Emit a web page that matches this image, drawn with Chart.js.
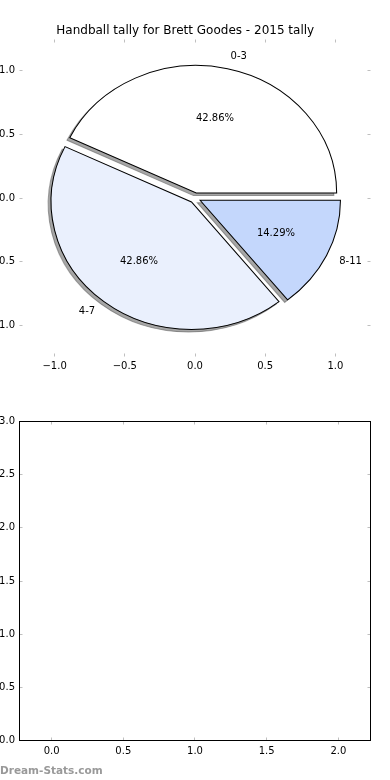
<!DOCTYPE html>
<html><head><meta charset="utf-8">
<script src="https://cdn.jsdelivr.net/npm/chart.js@4.4.1/dist/chart.umd.min.js"></script>
<style>
html,body{margin:0;padding:0;background:#fff;width:390px;height:780px;overflow:hidden;}
#wrap{position:relative;width:390px;height:780px;background:#fff;}
canvas{position:absolute;left:0;}
#c1{top:0}
#c2{top:390px}
#wm{position:absolute;left:0;top:764px;font:bold 10.5px 'DejaVu Sans';color:#999;line-height:12px;white-space:nowrap;}
</style></head><body>
<div id="wrap">
<canvas id="c1" width="390" height="390"></canvas>
<canvas id="c2" width="390" height="390"></canvas>
<div id="wm">Dream-Stats.com</div>
</div>
<script>
// ---- data ----
const chartTitle = 'Handball tally for Brett Goodes - 2015 tally';
const categories = ['0-3', '4-7', '8-11'];
const tallies = [3, 3, 1];
const sliceColors = ['#ffffff', '#eaf0fd', '#c4d7fc'];
const explode = [0.04, 0.04, 0.04];
const pieXTicks = [-1.0, -0.5, 0.0, 0.5, 1.0];
const pieYTicks = [-1.0, -0.5, 0.0, 0.5, 1.0];
const emptyXTicks = [0.0, 0.5, 1.0, 1.5, 2.0];
const emptyYTicks = [0.0, 0.5, 1.0, 1.5, 2.0, 2.5, 3.0];

// ---- style ----
Chart.defaults.font.family = "'DejaVu Sans', 'Liberation Sans', sans-serif";
Chart.defaults.font.size = 10;
Chart.defaults.color = '#000';
const FONT = "10px 'DejaVu Sans'";
const TICK_COLOR = '#bfbfbf';
const SHADOW = 'rgba(77,77,77,0.5)';
const SHADOW_OFF = [-0.02, -0.02];
const fmt = v => (v < 0 ? '\u2212' : '') + Math.abs(v).toFixed(1);

const innerTicks = {
  id: 'innerTicks',
  afterDraw(chart, args, opts) {
    const {ctx, chartArea: a, scales} = chart;
    ctx.save();
    ctx.strokeStyle = TICK_COLOR;
    ctx.lineWidth = 1;
    ctx.beginPath();
    scales.x.ticks.forEach(t => {
      const px = Math.floor(scales.x.getPixelForValue(t.value)) + 0.5;
      ctx.moveTo(px, a.top); ctx.lineTo(px, a.top + 3);
      ctx.moveTo(px, a.bottom); ctx.lineTo(px, a.bottom - 3);
    });
    scales.y.ticks.forEach(t => {
      const py = Math.floor(scales.y.getPixelForValue(t.value)) + 0.5;
      ctx.moveTo(a.left, py); ctx.lineTo(a.left + 3, py);
      ctx.moveTo(a.right, py); ctx.lineTo(a.right - 3, py);
    });
    ctx.stroke();
    if (opts && opts.frame) {
      ctx.strokeStyle = '#000';
      ctx.strokeRect(a.left, a.top, a.right - a.left, a.bottom - a.top);
    }
    ctx.restore();
  }
};

const mplPie = {
  id: 'mplPie',
  beforeDatasetsDraw(chart) {
    const ctx = chart.ctx;
    const meta = chart.getDatasetMeta(0);
    const xs = chart.scales.x, ys = chart.scales.y;
    const cx = xs.getPixelForValue(0), cy = ys.getPixelForValue(0);
    const rx = xs.getPixelForValue(1) - cx;
    const ry = cy - ys.getPixelForValue(1);
    const arcs = meta.data;
    const place = (arc, dx, dy) => {
      const R = arc.outerRadius;
      ctx.translate(xs.getPixelForValue(dx), ys.getPixelForValue(dy));
      ctx.scale(rx / R, -ry / R);
      ctx.translate(-arc.x, -arc.y);
    };
    const drawWith = (arc, over) => {
      const orig = arc.options;
      arc.options = Object.assign({}, orig, over);
      arc.draw(ctx);
      arc.options = orig;
    };
    // shadows
    arcs.forEach((arc, i) => {
      const mid = (arc.startAngle + arc.endAngle) / 2;
      const e = explode[i];
      const bw = 2 * arc.outerRadius / (rx + ry);
      ctx.save();
      place(arc, e * Math.cos(mid) + SHADOW_OFF[0], e * Math.sin(mid) + SHADOW_OFF[1]);
      drawWith(arc, {backgroundColor: SHADOW, borderColor: SHADOW, borderWidth: bw, borderJoinStyle: 'miter'});
      ctx.restore();
    });
    // wedges
    arcs.forEach((arc, i) => {
      const mid = (arc.startAngle + arc.endAngle) / 2;
      const e = explode[i];
      const bw = 2 * arc.outerRadius / (rx + ry);
      ctx.save();
      place(arc, e * Math.cos(mid), e * Math.sin(mid));
      drawWith(arc, {borderWidth: bw, borderColor: '#000', borderJoinStyle: 'miter'});
      ctx.restore();
    });
    // labels
    const total = tallies.reduce((a, b) => a + b, 0);
    ctx.save();
    ctx.font = FONT;
    ctx.fillStyle = '#000';
    ctx.textBaseline = 'middle';
    arcs.forEach((arc, i) => {
      const mid = (arc.startAngle + arc.endAngle) / 2;
      const e = explode[i];
      const c = Math.cos(mid), s = Math.sin(mid);
      const lx = xs.getPixelForValue((e + 1.1) * c), ly = ys.getPixelForValue((e + 1.1) * s);
      ctx.textAlign = c > 0 ? 'left' : 'right';
      ctx.fillText(categories[i], lx, ly);
      const px = xs.getPixelForValue((e + 0.6) * c), py = ys.getPixelForValue((e + 0.6) * s);
      ctx.textAlign = 'center';
      ctx.fillText((tallies[i] / total * 100).toFixed(2) + '%', px, py);
    });
    ctx.restore();
    return false;
  }
};

const axisTicks = (arr) => (s) => { s.ticks = arr.map(v => ({value: v})); };
const tickOpts = (pad) => ({padding: pad, color: '#000', font: {size: 10}, callback: fmt, maxRotation: 0, autoSkip: false});
const noGrid = {display: false, drawTicks: false};

new Chart(document.getElementById('c1'), {
  type: 'pie',
  data: {
    labels: categories,
    datasets: [{data: tallies, backgroundColor: sliceColors, borderColor: '#000', borderWidth: 1}]
  },
  options: {
    responsive: false,
    animation: false,
    events: [],
    rotation: 90,
    layout: {padding: {left: 0, right: 19.5, top: 0, bottom: 0}},
    plugins: {
      legend: {display: false},
      tooltip: {enabled: false},
      title: {display: true, text: chartTitle, color: '#000', font: {size: 12, weight: 'normal'}, padding: {top: 24, bottom: 1.1}}
    },
    scales: {
      x: {type: 'linear', position: 'bottom', min: -1.25, max: 1.25,
          afterBuildTicks: axisTicks(pieXTicks), afterFit: s => { s.height = 33.5; },
          grid: noGrid, border: {display: false}, ticks: tickOpts(3.5)},
      y: {type: 'linear', position: 'left', min: -1.243, max: 1.243,
          afterBuildTicks: axisTicks(pieYTicks), afterFit: s => { s.width = 19.5; },
          grid: noGrid, border: {display: false}, ticks: tickOpts(4.5)}
    }
  },
  plugins: [mplPie, innerTicks]
});

new Chart(document.getElementById('c2'), {
  type: 'scatter',
  data: {datasets: [{data: []}]},
  options: {
    responsive: false,
    animation: false,
    events: [],
    layout: {padding: {left: 0, right: 19.5, top: 31.5, bottom: 0}},
    plugins: {legend: {display: false}, tooltip: {enabled: false}, innerTicks: {frame: true}},
    scales: {
      x: {type: 'linear', position: 'bottom', min: -0.224, max: 2.224,
          afterBuildTicks: axisTicks(emptyXTicks), afterFit: s => { s.height = 39.5; },
          grid: noGrid, border: {display: false}, ticks: tickOpts(4.5)},
      y: {type: 'linear', position: 'left', min: 0, max: 3,
          afterBuildTicks: axisTicks(emptyYTicks), afterFit: s => { s.width = 19.5; },
          grid: noGrid, border: {display: false}, ticks: tickOpts(4.5)}
    }
  },
  plugins: [innerTicks]
});
</script>
</body></html>
